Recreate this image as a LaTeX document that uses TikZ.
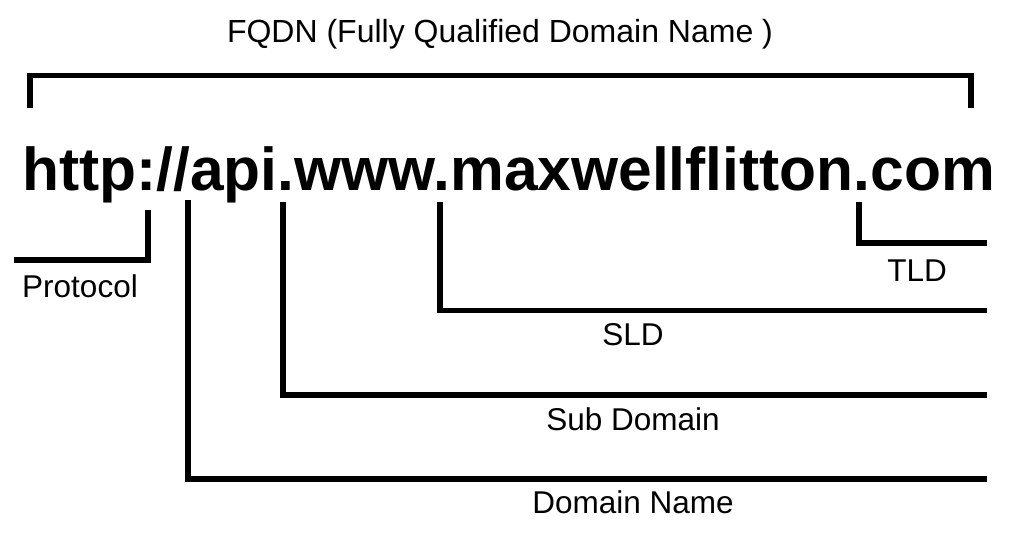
\documentclass[tikz,border=0pt]{standalone}
\usepackage{fontspec}
\setmainfont{Liberation Sans}

\begin{document}
\begin{tikzpicture}[x=1pt,y=-1pt,line width=5.5pt,line join=miter]
    \tikzstyle{partname}=[inner sep=0pt,anchor=base,font=\fontsize{31.5}{36}\selectfont]
    \tikzstyle{address}=[inner sep=0pt,anchor=base,font=\fontsize{60.5}{72}\selectfont\bfseries]
    \useasboundingbox (0,0) rectangle (1009,536);

    \node[partname,font=\fontsize{32}{36}\selectfont] (FQDN) at (500,42) {FQDN (Fully Qualified Domain Name )};
    \node[address] (URL) at (508.5,190) {http://api.www.maxwellflitton.com};

    % bracket over the whole name
    \coordinate (F-left) at (30,108);
    \coordinate (F-right) at (971,108);
    \draw (F-left) -- ++(0,-32.5) -| (F-right);

    % protocol
    \coordinate (P-top) at (148,210);
    \coordinate (P-end) at (14,260);
    \draw (P-top) |- (P-end);
    \node[partname] (P-label) at (80,297) {Protocol};

    \foreach \name/\x/\top/\y/\lx/\ly/\txt in {TLD/859/202/243/917/281/TLD, SLD/440/202/310.5/633/345/SLD,
            Sub/283/202/395/633/430/Sub Domain, Dom/188/200/479/633/513/Domain Name}
    {
        \coordinate (\name-top) at (\x,\top);
        \coordinate (\name-end) at (987,\y);
        \draw (\name-top) |- (\name-end);
        \node[partname] (\name-label) at (\lx,\ly) {\txt};
    }
\end{tikzpicture}
\end{document}
